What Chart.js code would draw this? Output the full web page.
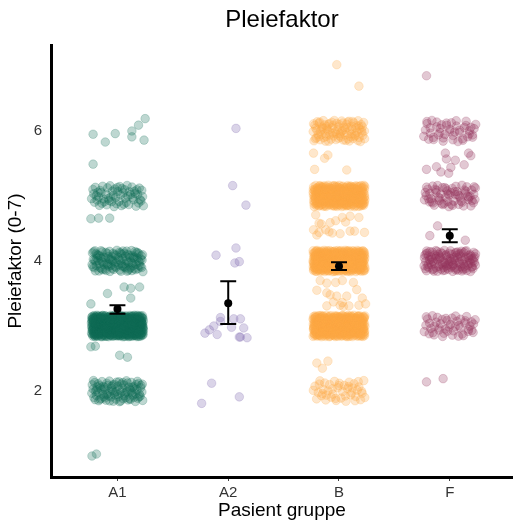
<!DOCTYPE html>
<html><head><meta charset="utf-8">
<script src="https://cdn.jsdelivr.net/npm/chart.js@4/dist/chart.umd.min.js"></script>
<style>html,body{margin:0;padding:0;background:#fff}#wrap{width:518px;height:522px}</style>
</head><body><div id="wrap"><canvas id="c" width="518" height="522"></canvas></div>
<script>
const categories = ['A1', 'A2', 'B', 'F'];
const yTickValues = [2, 4, 6];
const groupMeans = [3.26, 3.35, 3.92, 4.39];
const groupLower = [3.19, 3.03, 3.86, 4.29];
const groupUpper = [3.32, 3.69, 3.98, 4.49];

// Levels answered by many patients (value, number of patients)
const a1Levels = [2, 3, 4, 5];
const a1Counts = [95, 520, 115, 62];
const a2Levels = [];
const a2Counts = [];
const bLevels = [2, 3, 4, 5, 6];
const bCounts = [45, 430, 430, 330, 95];
const fLevels = [3, 4, 5, 6];
const fCounts = [48, 125, 66, 45];

// Single patients: [jittered group position, value]
const a1Single = [[0.78,5.95],[0.89,5.83],[0.98,5.96],[1.13,6.0],[1.13,5.91],[1.19,6.09],[1.25,6.19],[1.24,5.86],[0.78,5.49],
  [0.76,4.65],[0.83,4.66],[0.93,4.66],[0.91,3.50],[1.06,3.60],[1.12,3.58],[1.20,3.60],[1.12,3.43],[0.76,3.34],
  [0.76,2.68],[0.80,2.69],[1.02,2.55],[1.09,2.52],[0.77,1.0],[0.81,1.03]];
const a2Single = [[2.07,6.04],[2.04,5.16],[2.16,4.86],[2.07,4.2],[1.89,4.09],[2.06,3.97],[2.10,3.99],[1.93,3.13],[1.93,3.07],
  [1.87,3.0],[1.83,2.94],[1.79,2.89],[1.90,2.87],[2.03,2.98],[2.05,3.11],[2.11,3.11],[2.14,2.97],[2.10,2.83],[2.11,2.83],
  [2.17,2.82],[1.85,2.12],[2.10,1.91],[1.76,1.81]];
const bSingle = [[2.98,7.02],[3.18,6.69],[2.77,5.66],[2.87,5.58],[2.90,5.63],[2.78,5.41],[3.07,5.40],
  [2.79,4.71],[3.03,4.67],[3.10,4.69],[3.18,4.67],[2.97,4.62],[3.06,4.60],[2.82,4.58],[2.92,4.59],[2.84,4.57],[2.77,4.48],
  [2.82,4.44],[2.88,4.48],[2.94,4.43],[3.01,4.42],[3.10,4.46],[3.14,4.46],[3.23,4.44],[2.91,4.45],[2.80,4.40],
  [2.83,3.70],[2.89,3.66],[2.97,3.67],[3.03,3.70],[3.13,3.67],[2.80,3.55],[2.89,3.51],[3.16,3.56],[2.92,3.48],[2.98,3.46],
  [3.07,3.46],[3.21,3.43],[2.95,3.37],[3.03,3.36],[3.09,3.31],[2.89,3.31],[3.01,3.32],[3.18,3.32],[3.24,3.34],[3.04,3.30],
  [2.80,2.43],[2.90,2.46],[2.85,2.35]];
const fSingle = [[3.79,6.85],[3.96,5.66],[3.97,5.57],[4.05,5.55],[4.17,5.66],[4.19,5.62],[4.13,5.48],[3.88,5.45],[3.79,5.41],
  [4.01,5.44],[3.92,5.37],[3.99,5.35],[3.89,4.54],[3.82,4.39],[4.14,4.32],[3.79,2.14],[3.94,2.19]];

const groupColors = ['14,107,86', '118,96,170', '253,168,68', '148,52,92'];

// jitter spread of the geom (horizontal / vertical half widths, in data units)
const JW = 0.235, JH = 0.165;
function halton(i, b) { let f = 1, r = 0; while (i > 0) { f /= b; r += f * (i % b); i = Math.floor(i / b); } return r; }
function bandPoints(g, levels, counts) {
  const pts = [];
  levels.forEach((lv, k) => {
    const seed = 1 + g * 3001 + k * 577;
    for (let i = 0; i < counts[k]; i++) {
      pts.push({ x: g + 1 + JW * (2 * halton(seed + i, 2) - 1), y: lv + JH * (2 * halton(seed + i, 3) - 1) });
    }
  });
  return pts;
}
const allLevels = [a1Levels, a2Levels, bLevels, fLevels];
const allCounts = [a1Counts, a2Counts, bCounts, fCounts];
const allSingles = [a1Single, a2Single, bSingle, fSingle];

const pointSets = categories.map((c, g) => {
  const data = bandPoints(g, allLevels[g], allCounts[g]).concat(allSingles[g].map(p => ({ x: p[0], y: p[1] })));
  return {
    type: 'scatter', label: c, data, order: 2,
    pointRadius: 4.3, pointHoverRadius: 4.3, pointBorderWidth: 0.8,
    backgroundColor: 'rgba(' + groupColors[g] + ',0.27)',
    borderColor: 'rgba(' + groupColors[g] + ',0.27)'
  };
});

const capHalf = 0.072;
const errData = [];
groupMeans.forEach((m, g) => {
  const c = g + 1;
  errData.push({ x: c, y: groupLower[g] }, { x: c, y: groupUpper[g] }, { x: c, y: null });
  errData.push({ x: c - capHalf, y: groupLower[g] }, { x: c + capHalf, y: groupLower[g] }, { x: c, y: null });
  errData.push({ x: c - capHalf, y: groupUpper[g] }, { x: c + capHalf, y: groupUpper[g] }, { x: c, y: null });
});

const FONT = "'Liberation Sans', Arial, Helvetica, sans-serif";
new Chart(document.getElementById('c'), {
  type: 'scatter',
  data: {
    datasets: [
      { type: 'line', data: errData, order: 0, borderColor: '#000', borderWidth: 2, pointRadius: 0, spanGaps: false, fill: false, borderCapStyle: 'butt' },
      { type: 'scatter', data: groupMeans.map((m, g) => ({ x: g + 1, y: m })), order: 1, pointRadius: 4, backgroundColor: '#000', borderColor: '#000', borderWidth: 0 }
    ].concat(pointSets)
  },
  options: {
    responsive: false, animation: false, devicePixelRatio: 1, events: [],
    layout: { padding: 0 },
    plugins: {
      legend: { display: false }, tooltip: { enabled: false },
      title: { display: true, text: 'Pleiefaktor', fullSize: false, color: '#000', font: { family: FONT, size: 24, weight: 'normal' }, padding: { top: 6, bottom: 10.2 } }
    },
    scales: {
      x: {
        type: 'linear', min: 0.4, max: 4.57,
        afterBuildTicks: s => { s.ticks = categories.map((c, i) => ({ value: i + 1 })); },
        afterFit: s => { s.height = 45; },
        ticks: { callback: (v) => categories[Math.round(v) - 1], color: '#333', font: { family: FONT, size: 15 }, padding: 3, maxRotation: 0, autoSkip: false },
        grid: { drawOnChartArea: false, drawTicks: true, tickLength: 4, color: '#444', lineWidth: 1 },
        border: { display: true, color: '#000', width: 3 },
        title: { display: true, text: 'Pasient gruppe', color: '#000', font: { family: FONT, size: 19 }, padding: { top: 0, bottom: 0 } }
      },
      y: {
        type: 'linear', min: 0.677, max: 7.323,
        afterBuildTicks: s => { s.ticks = yTickValues.map(v => ({ value: v })); },
        afterFit: s => { s.width = 51; },
        ticks: { color: '#333', font: { family: FONT, size: 15 }, padding: 9 },
        grid: { drawOnChartArea: false, drawTicks: false },
        border: { display: true, color: '#000', width: 3 },
        title: { display: true, text: 'Pleiefaktor (0-7)', color: '#000', font: { family: FONT, size: 19 }, padding: { top: 4, bottom: 0 } }
      }
    }
  }
});
</script></body></html>
